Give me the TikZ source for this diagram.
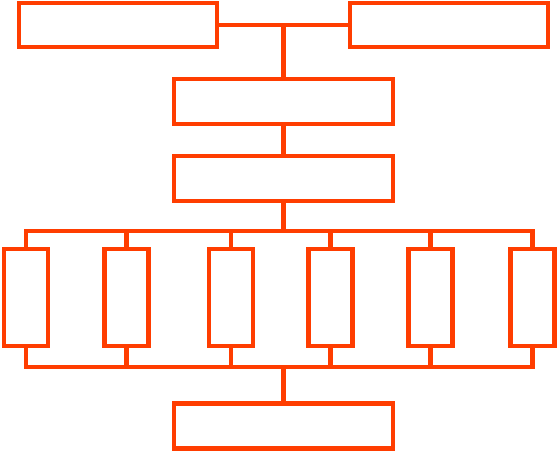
\documentclass[tikz,border=0pt]{standalone}
\usetikzlibrary{calc}
\definecolor{org}{RGB}{255,61,0}
\begin{document}
\begin{tikzpicture}[x=1pt,y=-1pt,
  box/.style={draw=org,line width=4.5pt,rectangle,inner sep=0pt,minimum width=#1},
  wide/.style={box=219pt,minimum height=45pt},
  topbox/.style={box=198pt,minimum height=44pt},
  tall/.style={box=44pt,minimum height=97pt},
  conn/.style={draw=org,line width=4.5pt}]
\useasboundingbox (0,0) rectangle (558,452);
\node[topbox] (tl) at (118,25) {};
\node[topbox] (tr) at (449,25) {};
\node[wide] (b2) at (283.5,101.5) {};
\node[wide] (b3) at (283.5,178.5) {};
\node[wide] (b4) at (283.5,426) {};
\node[tall] (t1) at (26,297.5) {};
\node[tall] (t2) at (126.5,297.5) {};
\node[tall] (t3) at (231,297.5) {};
\node[tall] (t4) at (330.5,297.5) {};
\node[tall] (t5) at (430.5,297.5) {};
\node[tall] (t6) at (532.5,297.5) {};
\coordinate (bus1) at (283.5,231);
\coordinate (bus2) at (283.5,367);
\draw[conn] (tl.east) -- (tr.west);
\draw[conn] (b2.north) -- (b2.north |- tl.east);
\draw[conn] (b2.south) -- (b3.north);
\draw[conn] (b3.south) -- (bus1);
\draw[conn] (t1.north) |- (t6.north |- bus1) -- (t6.north);
\foreach \i in {2,3,4,5}{\draw[conn] (t\i.north) -- (t\i.north |- bus1);}
\draw[conn] (t1.south) |- (t6.south |- bus2) -- (t6.south);
\foreach \i in {2,3,4,5}{\draw[conn] (t\i.south) -- (t\i.south |- bus2);}
\draw[conn] (bus2) -- (b4.north);
\end{tikzpicture}
\end{document}
